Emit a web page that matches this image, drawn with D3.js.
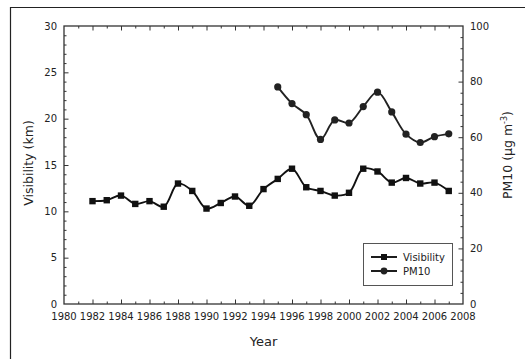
<!DOCTYPE html>
<html>
<head>
<meta charset="utf-8">
<script src="https://cdn.jsdelivr.net/npm/d3@7"></script>
<style>
  html, body { margin: 0; padding: 0; background: #fff; overflow: hidden; }
  svg { display: block; font-family: "DejaVu Sans", Verdana, sans-serif; }
</style>
</head>
<body>
<svg width="525" height="359" viewBox="0 0 525 359"></svg>
<script>
const svg = d3.select('svg');
const width = +svg.attr('width');
const height = +svg.attr('height');

// data
const visYears = d3.range(1982, 2008);
const visibility = [11.1, 11.2, 11.7, 10.8, 11.1, 10.5, 13.0, 12.2, 10.3, 10.9,
                    11.6, 10.6, 12.4, 13.5, 14.6, 12.6, 12.2, 11.7, 12.0, 14.6,
                    14.3, 13.1, 13.6, 13.0, 13.1, 12.2];
const pmYears = d3.range(1995, 2008);
const pm10 = [78.1, 72.1, 68.1, 59.2, 66.2, 65.1, 71.0, 76.2, 69.1, 61.1, 58.1, 60.2, 61.2];

const xTicks = d3.range(1980, 2009, 2);
const yLeftTicks = [0, 5, 10, 15, 20, 25, 30];
const yRightTicks = [0, 20, 40, 60, 80, 100];

const margin = { top: 26, right: 62, bottom: 55, left: 64 };
const innerWidth = width - margin.left - margin.right;
const innerHeight = height - margin.top - margin.bottom;
const axisColor = '#333';
const textColor = '#222';

// outer frame (only top and left edges show)
svg.append('path')
    .attr('d', `M10.5,${height} V7.5 H${width}`)
    .attr('fill', 'none')
    .attr('stroke', '#222')
    .attr('stroke-width', 1.2);

const g = svg.append('g')
    .attr('transform', `translate(${margin.left},${margin.top})`);

const xScale = d3.scaleLinear().domain([1980, 2008]).range([0, innerWidth]);
const yScale = d3.scaleLinear().domain([0, 30]).range([innerHeight, 0]);
const y2Scale = d3.scaleLinear().domain([0, 100]).range([innerHeight, 0]);

// inward ticks with d3 axes, labels drawn separately
const tickAxis = (axis, values, len, transform) => {
    g.append('g')
        .attr('transform', transform || null)
        .call(axis.tickValues(values).tickSize(-len).tickFormat(''))
        .call(sel => {
            sel.select('.domain').remove();
            sel.selectAll('text').remove();
            sel.selectAll('line').attr('stroke', axisColor).attr('stroke-width', 1);
        });
};
const xMinor = d3.range(1981, 2008, 2);
const xMajor = xTicks.slice(1, -1);
tickAxis(d3.axisBottom(xScale), xMinor, 2.5, `translate(0,${innerHeight})`);
tickAxis(d3.axisBottom(xScale), xMajor, 4.5, `translate(0,${innerHeight})`);
tickAxis(d3.axisTop(xScale), xMinor, 2.5);
tickAxis(d3.axisTop(xScale), xMajor, 4.5);
tickAxis(d3.axisLeft(yScale), d3.range(1, 30).filter(d => d % 5), 2.5);
tickAxis(d3.axisLeft(yScale), yLeftTicks.slice(1, -1), 4.5);
tickAxis(d3.axisRight(y2Scale), d3.range(4, 100, 4).filter(d => d % 20), 2.5, `translate(${innerWidth},0)`);
tickAxis(d3.axisRight(y2Scale), yRightTicks.slice(1, -1), 4.5, `translate(${innerWidth},0)`);

// tick labels
svg.selectAll('.xl').data(xTicks).enter().append('text')
    .attr('class', 'xl')
    .attr('x', d => margin.left + xScale(d))
    .attr('y', margin.top + innerHeight + 16)
    .attr('text-anchor', 'middle')
    .attr('font-size', 10).attr('fill', textColor)
    .text(d => d);
svg.selectAll('.yl').data(yLeftTicks).enter().append('text')
    .attr('class', 'yl')
    .attr('x', margin.left - 7)
    .attr('y', d => margin.top + yScale(d) + 3.5)
    .attr('text-anchor', 'end')
    .attr('font-size', 10).attr('fill', textColor)
    .text(d => d);
svg.selectAll('.y2l').data(yRightTicks).enter().append('text')
    .attr('class', 'y2l')
    .attr('x', margin.left + innerWidth + 7)
    .attr('y', d => margin.top + y2Scale(d) + 3.5)
    .attr('text-anchor', 'start')
    .attr('font-size', 10).attr('fill', textColor)
    .text(d => d);

// plot frame
g.append('rect')
    .attr('width', innerWidth)
    .attr('height', innerHeight)
    .attr('fill', 'none')
    .attr('stroke', axisColor)
    .attr('stroke-width', 1.3);

// series
const visLine = d3.line()
    .x((d, i) => xScale(visYears[i]))
    .y(d => yScale(d))
    .curve(d3.curveCatmullRom.alpha(0.5));
const pmLine = d3.line()
    .x((d, i) => xScale(pmYears[i]))
    .y(d => y2Scale(d))
    .curve(d3.curveCatmullRom.alpha(0.5));

g.append('path').datum(visibility)
    .attr('d', visLine)
    .attr('fill', 'none').attr('stroke', '#111').attr('stroke-width', 1.9);
g.append('path').datum(pm10)
    .attr('d', pmLine)
    .attr('fill', 'none').attr('stroke', '#222').attr('stroke-width', 1.9);

g.selectAll('.sq').data(visibility).enter().append('rect')
    .attr('class', 'sq')
    .attr('x', (d, i) => xScale(visYears[i]) - 3.2)
    .attr('y', d => yScale(d) - 3.2)
    .attr('width', 6.4).attr('height', 6.4)
    .attr('fill', '#111');
g.selectAll('.dot').data(pm10).enter().append('circle')
    .attr('class', 'dot')
    .attr('cx', (d, i) => xScale(pmYears[i]))
    .attr('cy', d => y2Scale(d))
    .attr('r', 3.6)
    .attr('fill', '#222');

// legend
const legend = svg.append('g').attr('transform', 'translate(363,243)');
legend.append('rect')
    .attr('x', 0.5).attr('y', 0.5)
    .attr('width', 89).attr('height', 42)
    .attr('fill', '#fff').attr('stroke', '#555').attr('stroke-width', 1);
const legendItems = [
    { label: 'Visibility', shape: 'square' },
    { label: 'PM10', shape: 'circle' }
];
legendItems.forEach((item, i) => {
    const y = 14 + i * 14;
    legend.append('line')
        .attr('x1', 8).attr('x2', 34).attr('y1', y).attr('y2', y)
        .attr('stroke', '#111').attr('stroke-width', 1.9);
    if (item.shape === 'square') {
        legend.append('rect').attr('x', 18).attr('y', y - 3).attr('width', 6).attr('height', 6).attr('fill', '#111');
    } else {
        legend.append('circle').attr('cx', 21).attr('cy', y).attr('r', 3.4).attr('fill', '#222');
    }
    legend.append('text')
        .attr('x', 40).attr('y', y + 3.5)
        .attr('font-size', 10).attr('fill', textColor)
        .text(item.label);
});

// axis titles
svg.append('text')
    .attr('transform', `translate(33,${margin.top + innerHeight / 2 - 2}) rotate(-90)`)
    .attr('text-anchor', 'middle')
    .attr('font-size', 12.5).attr('fill', textColor)
    .text('Visibility (km)');

const y2Title = svg.append('text')
    .attr('transform', `translate(512,${margin.top + innerHeight / 2 - 10}) rotate(-90)`)
    .attr('text-anchor', 'middle')
    .attr('font-size', 12.5).attr('fill', textColor);
y2Title.append('tspan').text('PM10 (µg m');
y2Title.append('tspan').attr('dy', -5).attr('font-size', 8).text('-3');
y2Title.append('tspan').attr('dy', 5).text(')');

svg.append('text')
    .attr('x', margin.left + innerWidth / 2).attr('y', 346)
    .attr('text-anchor', 'middle')
    .attr('font-size', 13).attr('fill', textColor)
    .text('Year');
</script>
</body>
</html>
